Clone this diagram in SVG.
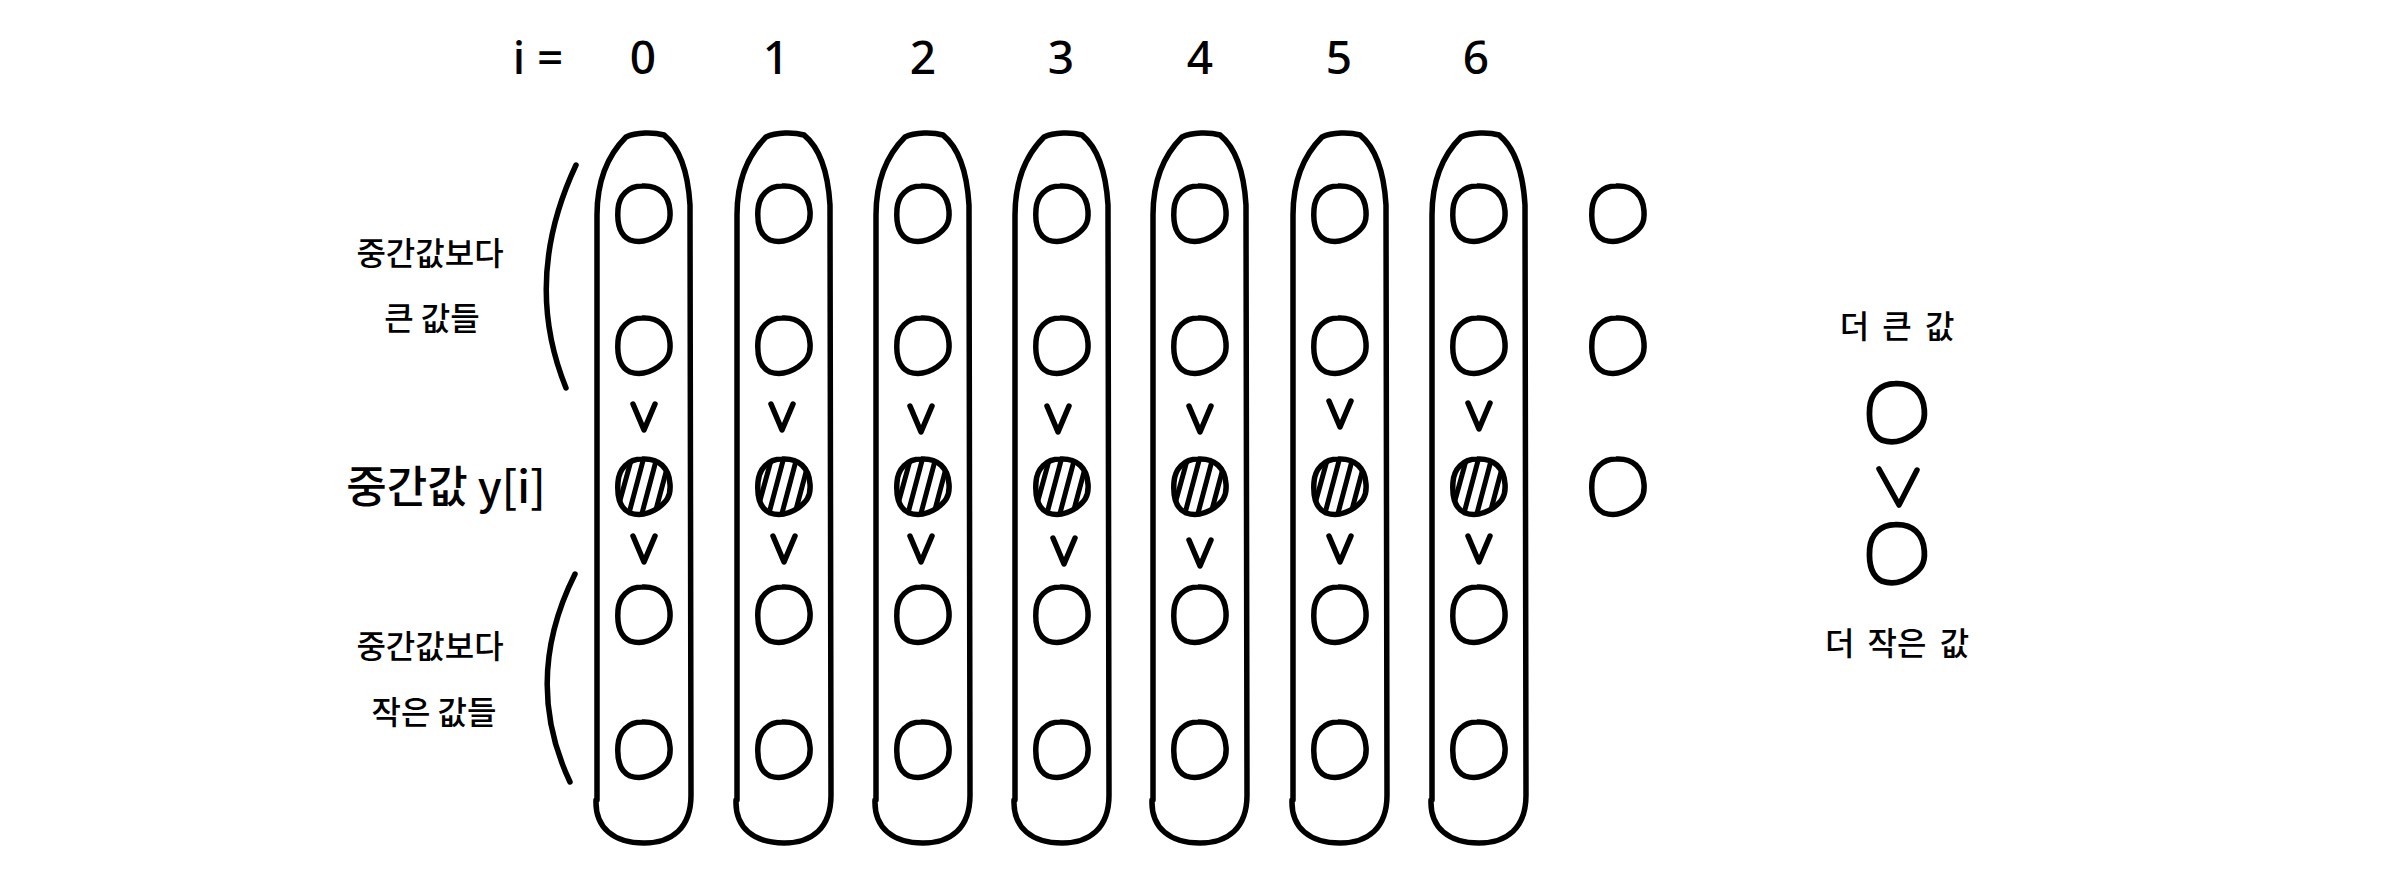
<svg xmlns="http://www.w3.org/2000/svg" xmlns:xlink="http://www.w3.org/1999/xlink" width="2400" height="885" viewBox="0 0 2400 885">
<style>
.ln{fill:none;stroke:#000;stroke-width:5.5;stroke-linecap:round;stroke-linejoin:round}
.hl{fill:none;stroke:#000;stroke-width:5;stroke-linecap:round}
.t{font-family:"Noto Sans","Noto Sans CJK KR",sans-serif;fill:#000;font-weight:500}
.k{font-family:"Noto Sans CJK KR","Noto Sans",sans-serif;fill:#000;font-size:32px;text-anchor:middle;font-weight:500}
.d{font-size:46px;text-anchor:middle}
</style>
<defs>
<path id="cap" class="ln" d="M -47,800 L -47,215 C -47,175 -33,152 -18,137 C -8,132 10,132 20,135 C 36,148 44,172 46,205 L 47,795 C 47,828 28,843 0,843 C -30,843 -49,828 -48,800 Z"/>
<path id="c" class="ln" d="M -2,-28 C 15,-29 25,-19 26,-3 C 27,10 22,15 14,21 C 5,27 -5,29 -14,26 C -25,21 -27,8 -26,-5 C -25,-18 -16,-28 -2,-28 Z"/>
<path id="v" class="ln" d="M -11,-13 L 0,13 L 11,-13"/>
<clipPath id="cc"><ellipse cx="0" cy="0" rx="26" ry="28"/></clipPath>
<g id="h">
<g clip-path="url(#cc)">
<path class="hl" d="M -28,28 L -12,-30 M -16,30 L 0,-30 M -3,30 L 13,-30 M 10,30 L 26,-30"/>
</g>
<use xlink:href="#c"/>
</g>
</defs>
<rect width="2400" height="885" fill="#fff"/>

<g id="index-labels" class="t">
<text x="538" y="74" class="d">i =</text>
<text x="643" y="74" class="d">0</text>
<text x="776" y="74" class="d">1</text>
<text x="923" y="74" class="d">2</text>
<text x="1061" y="74" class="d">3</text>
<text x="1200" y="74" class="d">4</text>
<text x="1339" y="74" class="d">5</text>
<text x="1476" y="74" class="d">6</text>
</g>

<g id="col0" transform="translate(644,0)">
<use xlink:href="#cap"/>
<use xlink:href="#c" y="214"/><use xlink:href="#c" y="346"/><use xlink:href="#h" y="487"/><use xlink:href="#c" y="615"/><use xlink:href="#c" y="750"/>
<use xlink:href="#v" y="417"/><use xlink:href="#v" y="549"/>
</g>
<g id="col1" transform="translate(784,0)">
<use xlink:href="#cap"/>
<use xlink:href="#c" y="214"/><use xlink:href="#c" y="346"/><use xlink:href="#h" y="487"/><use xlink:href="#c" y="615"/><use xlink:href="#c" y="750"/>
<use xlink:href="#v" x="-2" y="417"/><use xlink:href="#v" y="549"/>
</g>
<g id="col2" transform="translate(923,0)">
<use xlink:href="#cap"/>
<use xlink:href="#c" y="214"/><use xlink:href="#c" y="346"/><use xlink:href="#h" y="487"/><use xlink:href="#c" y="615"/><use xlink:href="#c" y="750"/>
<use xlink:href="#v" x="-2" y="419"/><use xlink:href="#v" x="-2" y="549"/>
</g>
<g id="col3" transform="translate(1062,0)">
<use xlink:href="#cap"/>
<use xlink:href="#c" y="214"/><use xlink:href="#c" y="346"/><use xlink:href="#h" y="487"/><use xlink:href="#c" y="615"/><use xlink:href="#c" y="750"/>
<use xlink:href="#v" x="-4" y="419"/><use xlink:href="#v" x="2" y="551"/>
</g>
<g id="col4" transform="translate(1200,0)">
<use xlink:href="#cap"/>
<use xlink:href="#c" y="214"/><use xlink:href="#c" y="346"/><use xlink:href="#h" y="487"/><use xlink:href="#c" y="615"/><use xlink:href="#c" y="750"/>
<use xlink:href="#v" y="419"/><use xlink:href="#v" y="553"/>
</g>
<g id="col5" transform="translate(1340,0)">
<use xlink:href="#cap"/>
<use xlink:href="#c" y="214"/><use xlink:href="#c" y="346"/><use xlink:href="#h" y="487"/><use xlink:href="#c" y="615"/><use xlink:href="#c" y="750"/>
<use xlink:href="#v" y="414"/><use xlink:href="#v" y="549"/>
</g>
<g id="col6" transform="translate(1479,0)">
<use xlink:href="#cap"/>
<use xlink:href="#c" y="214"/><use xlink:href="#c" y="346"/><use xlink:href="#h" y="487"/><use xlink:href="#c" y="615"/><use xlink:href="#c" y="750"/>
<use xlink:href="#v" y="416"/><use xlink:href="#v" y="549"/>
</g>

<g id="extra" transform="translate(1618,0)">
<use xlink:href="#c" y="214"/><use xlink:href="#c" y="346"/><use xlink:href="#c" y="487"/>
</g>

<g id="brackets">
<path class="ln" d="M 576,165 Q 522,280 566,388"/>
<path class="ln" d="M 575,574 Q 522,680 570,782"/>
</g>

<g id="label-upper">
<text x="430" y="265" class="k">중간값보다</text>
<text x="432" y="330" class="k">큰 값들</text>
</g>
<g id="label-median">
<text x="446" y="503" class="k" style="font-size:44px">중간값 y[i]</text>
</g>
<g id="label-lower">
<text x="430" y="658" class="k">중간값보다</text>
<text x="434" y="724" class="k">작은 값들</text>
</g>

<g id="legend" transform="translate(1897,0)">
<text x="0" y="338" class="k" style="word-spacing:6px">더 큰 값</text>
<use xlink:href="#c" transform="translate(0,413) scale(1.05)"/>
<path class="ln" d="M -19,-18 L 1,18 L 19,-17" transform="translate(1,487)"/>
<use xlink:href="#c" transform="translate(0,554) scale(1.05)"/>
<text x="0" y="655" class="k" style="word-spacing:6px">더 작은 값</text>
</g>
</svg>
